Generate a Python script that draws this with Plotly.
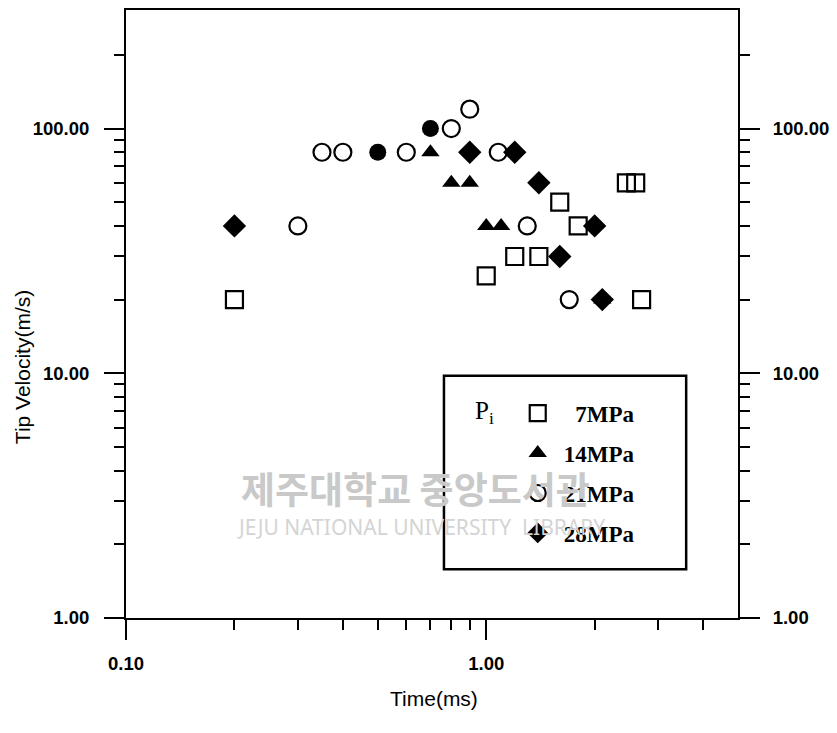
import plotly.graph_objects as go
import math

# ---- data (Time in ms, Tip velocity in m/s) ----
t_7 = [0.2, 1.0, 1.2, 1.4, 1.6, 1.8, 2.45, 2.6, 2.7]
v_7 = [20, 25, 30, 30, 50, 40, 60, 60, 20]

t_14 = [0.7, 0.8, 0.9, 1.0, 1.1, 2.1]
v_14 = [80, 60, 60, 40, 40, 20]

t_21 = [0.3, 0.35, 0.4, 0.6, 0.8, 0.9, 1.08, 1.3, 1.7]
v_21 = [40, 80, 80, 80, 100, 120, 80, 40, 20]

t_21f = [0.5, 0.7]
v_21f = [80, 100]

t_28 = [0.2, 0.9, 1.2, 1.4, 1.6, 2.0, 2.1]
v_28 = [40, 80, 80, 60, 30, 40, 20]

x_major = [0.1, 1.0]
x_major_text = ["0.10", "1.00"]
x_minor = [0.2, 0.3, 0.4, 0.5, 0.6, 0.7, 0.8, 0.9, 2, 3, 4]
y_major = [1, 10, 100]
y_major_text = ["1.00", "10.00", "100.00"]
y_minor = [2, 3, 4, 5, 6, 7, 8, 9, 20, 30, 40, 50, 60, 70, 80, 90, 200]

x_range = [0.1, 5.0]
y_range = [1.0, 305.0]

serif = "Liberation Serif, Times New Roman, serif"
sans = "Liberation Sans, Arial, sans-serif"

# plot-area pixel frame (used only to place free texts)
plot_l, plot_r, plot_t, plot_b = 126, 740, 8, 618
def px(x):
    return (x - plot_l) / (plot_r - plot_l)
def py(y):
    return (plot_b - y) / (plot_b - plot_t)

fig = go.Figure()

fig.add_trace(go.Scatter(x=t_7, y=v_7, mode="markers", name="\u20077MPa",
                         legendgroup="a",
                         marker=dict(symbol="square-open", size=17, color="black",
                                     line=dict(width=2.2, color="black"))))
fig.add_trace(go.Scatter(x=t_14, y=v_14, mode="markers", name="14MPa",
                         legendgroup="b",
                         marker=dict(symbol="triangle-up", size=16, color="black")))
fig.add_trace(go.Scatter(x=t_21, y=v_21, mode="markers", name="21MPa",
                         legendgroup="c",
                         marker=dict(symbol="circle-open", size=17, color="black",
                                     line=dict(width=2.2, color="black"))))
fig.add_trace(go.Scatter(x=t_28, y=v_28, mode="markers", name="28MPa",
                         legendgroup="d",
                         marker=dict(symbol="diamond", size=18, color="black")))
fig.add_trace(go.Scatter(x=t_21f, y=v_21f, mode="markers", name="21MPa (filled)",
                         showlegend=False,
                         marker=dict(symbol="circle", size=17, color="black")))
# invisible trace to carry the mirrored right-hand axis
fig.add_trace(go.Scatter(x=t_7, y=v_7, mode="markers", yaxis="y2",
                         showlegend=False, hoverinfo="skip",
                         marker=dict(opacity=0)))

tickfont = dict(family=sans, size=18.5, color="black", weight="bold")

def minor_y():
    return dict(ticks="outside", ticklen=10, tickwidth=2, tickcolor="black",
                tickmode="array", tickvals=y_minor, showgrid=False)

fig.update_layout(
    width=837, height=733,
    margin=dict(l=plot_l, r=837 - plot_r, t=plot_t, b=733 - plot_b),
    paper_bgcolor="white", plot_bgcolor="white",
    showlegend=True,
    legend=dict(x=px(513), y=py(391), xanchor="left", yanchor="top",
                bgcolor="rgba(0,0,0,0)", borderwidth=0,
                itemwidth=42, tracegroupgap=7,
                font=dict(family=serif, size=23, color="black", weight="bold")),
    xaxis=dict(type="log", range=[math.log10(x_range[0]), math.log10(x_range[1])],
               showgrid=False, zeroline=False,
               showline=True, linecolor="black", linewidth=2, mirror=True,
               ticks="outside", ticklen=20, tickwidth=2, tickcolor="black",
               tickmode="array", tickvals=x_major, ticktext=x_major_text,
               ticklabelstandoff=8,
               tickfont=tickfont,
               minor=dict(ticks="outside", ticklen=10, tickwidth=2, tickcolor="black",
                          tickmode="array", tickvals=x_minor, showgrid=False)),
    yaxis=dict(type="log", range=[math.log10(y_range[0]), math.log10(y_range[1])],
               showgrid=False, zeroline=False,
               showline=True, linecolor="black", linewidth=2,
               ticks="outside", ticklen=20, tickwidth=2, tickcolor="black",
               tickmode="array", tickvals=y_major, ticktext=y_major_text,
               ticklabelstandoff=11,
               tickfont=tickfont, minor=minor_y()),
    yaxis2=dict(type="log", range=[math.log10(y_range[0]), math.log10(y_range[1])],
                overlaying="y", side="right", anchor="x",
                showgrid=False, zeroline=False,
                showline=True, linecolor="black", linewidth=2,
                ticks="outside", ticklen=20, tickwidth=2, tickcolor="black",
                tickmode="array", tickvals=y_major, ticktext=y_major_text,
                ticklabelstandoff=9,
                tickfont=tickfont, minor=minor_y()),
)

# legend frame
fig.add_shape(type="rect", xref="paper", yref="paper",
              x0=px(445), x1=px(688), y0=py(569), y1=py(375),
              line=dict(color="black", width=2.5), fillcolor="rgba(0,0,0,0)")

annotations = [
    # watermark (drawn first so other text sits on top)
    dict(text="제주대학교 중앙도서관", x=px(416), y=py(488),
         font=dict(family="Noto Sans CJK KR", size=37, color="#c9c9c9", weight="bold")),
    dict(text="JEJU NATIONAL UNIVERSITY  LIBRARY", x=px(422), y=py(527),
         font=dict(family="Noto Sans", size=21, color="#d4d4d4")),
    dict(text="P<sub>i</sub>", x=px(486), y=py(412),
         font=dict(family=serif, size=25, color="black")),
    dict(text="Time(ms)", x=px(435), y=py(699),
         font=dict(family=sans, size=21, color="black")),
    dict(text="Tip Velocity(m/s)", x=px(22), y=py(366), textangle=-90,
         font=dict(family=sans, size=21, color="black")),
]
for a in annotations:
    a.update(xref="paper", yref="paper", showarrow=False,
             xanchor="center", yanchor="middle")
fig.update_layout(annotations=annotations)

fig.write_html("out.html")
